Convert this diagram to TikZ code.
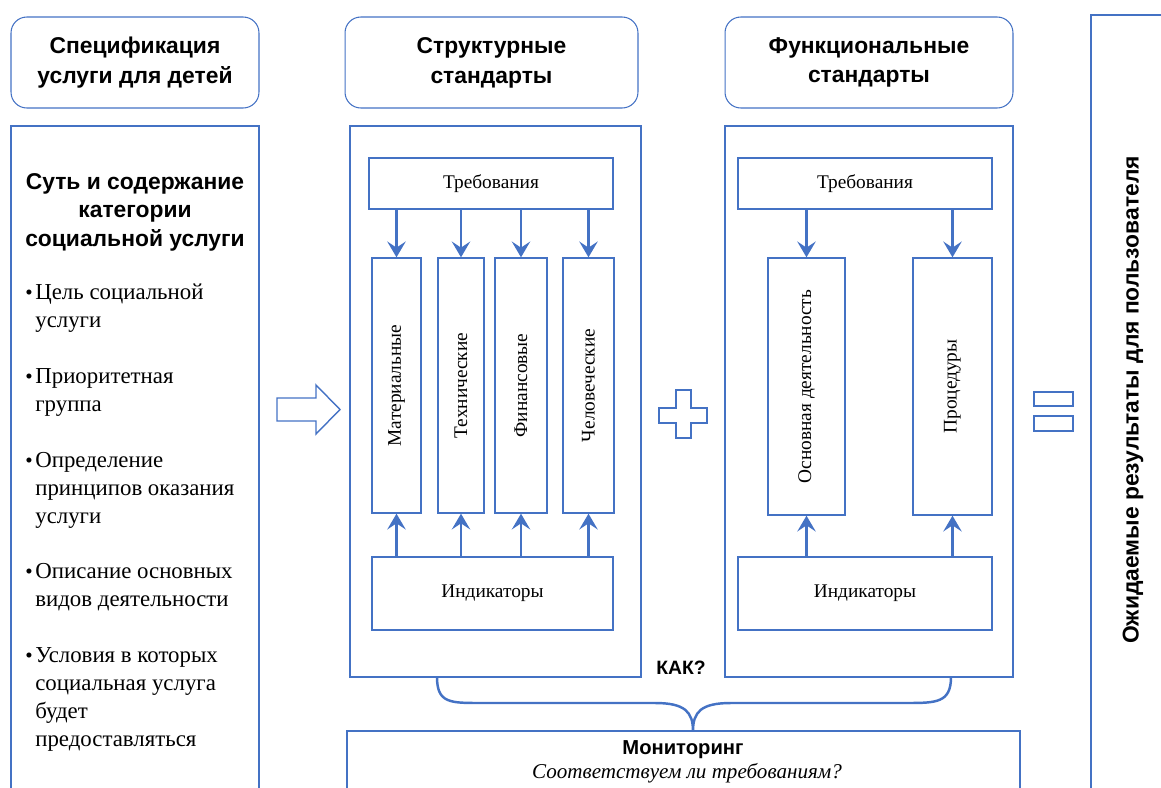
\documentclass[tikz,border=0pt]{standalone}
\usepackage{fontspec}
\usepackage{graphicx}
\setmainfont{Liberation Serif}
\setsansfont{Liberation Sans}
\usetikzlibrary{arrows.meta,positioning}
\definecolor{boxblue}{HTML}{4472C4}
\tikzstyle{header} = [rectangle,
                      rounded corners=9pt,
                      minimum height=1.82cm,
                      align=center,
                      draw=boxblue,
                      line width=0.6pt,
                      font=\sffamily\bfseries\fontsize{13}{17}\selectfont]
\tikzstyle{outline} = [draw=boxblue,
                       line width=0.8pt]
\tikzstyle{frame} = [rectangle,
                     minimum height=11.02cm,
                     draw=boxblue,
                     line width=0.8pt]
\tikzstyle{reqbox} = [rectangle,
                      minimum height=1.02cm,
                      draw=boxblue,
                      line width=0.8pt,
                      font=\fontsize{11}{13}\selectfont]
\tikzstyle{indbox} = [rectangle,
                      minimum height=1.46cm,
                      draw=boxblue,
                      line width=0.8pt,
                      font=\fontsize{11}{13}\selectfont]
\tikzstyle{column} = [rectangle,
                      inner sep=0pt,
                      minimum height=5.1cm,
                      draw=boxblue,
                      line width=0.8pt,
                      font=\fontsize{11}{13}\selectfont]
\tikzstyle{title} = [align=center,
                     font=\sffamily\bfseries\fontsize{13}{16.2}\selectfont]
\tikzstyle{item} = [align=left,
                    inner sep=0pt,
                    anchor=north west,
                    font=\fontsize{13}{15.9}\selectfont]
\tikzstyle{dot} = [inner sep=0pt,
                   anchor=base east,
                   font=\fontsize{12}{15.9}\selectfont]
\tikzstyle{arrow} = [draw=boxblue,
                     line width=1.3pt,
                     -{Stealth[length=9pt,width=10.5pt,inset=3.5pt]}]
\tikzstyle{brace} = [draw=boxblue,
                     line width=1.4pt]

\begin{document}
\begin{tikzpicture}[x=0.02cm, y=-0.02cm]
    \useasboundingbox (0,0) rectangle (1161,788);

    % headers
    \node (spec)   [header, minimum width=4.96cm] at (135,62.5)   {Спецификация\\услуги для детей};
    \node (struct) [header, minimum width=5.86cm] at (491.5,62.5) {Структурные\\стандарты};
    \node (func)   [header, minimum width=5.76cm] at (869,62.5)   {Функциональные\\стандарты};

    % left column
    \draw [outline] (11,788) -- (11,126) -- (259,126) -- (259,788);
    \node (essence) [title] at (135,212) {Суть и содержание\\категории\\социальной услуги};
    \node (it1) [item] at (35,279.4) {\strut Цель социальной\\услуги};
    \node (it2) [item] at (35,363.4) {\strut Приоритетная\\группа};
    \node (it3) [item] at (35,447.4) {\strut Определение\\принципов оказания\\услуги};
    \node (it4) [item] at (35,558.4) {\strut Описание основных\\видов деятельности};
    \node (it5) [item] at (35,642.4) {\strut Условия в которых\\социальная услуга\\будет\\предоставляться};
    \node (d1) [dot] at (33,299) {\textbullet};
    \node (d2) [dot] at (33,383) {\textbullet};
    \node (d3) [dot] at (33,467) {\textbullet};
    \node (d4) [dot] at (33,578) {\textbullet};
    \node (d5) [dot] at (33,662) {\textbullet};

    % hollow arrow
    \draw [outline] (277,398) -- (316,398) -- (316,385) -- (340,409.5) -- (316,434) -- (316,421) -- (277,421) -- cycle;

    % structural standards
    \node (sframe) [frame, minimum width=5.82cm] at (495.5,401.5) {};
    \node (sreq) [reqbox, minimum width=4.88cm] at (491,183.5) {Требования};
    \node (mat)  [column, minimum width=0.98cm] at (396.5,385.5) {\rotatebox{90}{Материальные}};
    \node (tech) [column, minimum width=0.92cm] at (461,385.5)   {\rotatebox{90}{Технические}};
    \node (fin)  [column, minimum width=1.04cm] at (521,385.5)   {\rotatebox{90}{Финансовые}};
    \node (hum)  [column, minimum width=1.02cm] at (588.5,385.5) {\rotatebox{90}{Человеческие}};
    \node (sind) [indbox, minimum width=4.82cm] at (492.5,593.5) {Индикаторы};

    \draw [arrow] (sreq.south -| mat)  -- (mat.north);
    \draw [arrow] (sreq.south -| tech) -- (tech.north);
    \draw [arrow] (sreq.south -| fin)  -- (fin.north);
    \draw [arrow] (sreq.south -| hum)  -- (hum.north);
    \draw [arrow] (sind.north -| mat)  -- (mat.south);
    \draw [arrow] (sind.north -| tech) -- (tech.south);
    \draw [arrow] (sind.north -| fin)  -- (fin.south);
    \draw [arrow] (sind.north -| hum)  -- (hum.south);

    % plus
    \draw [outline] (676,390) -- (691,390) -- (691,408) -- (707,408) -- (707,423) -- (691,423) -- (691,438)
                    -- (676,438) -- (676,423) -- (659,423) -- (659,408) -- (676,408) -- cycle;

    % functional standards
    \node (fframe) [frame, minimum width=5.76cm] at (869,401.5) {};
    \node (freq) [reqbox, minimum width=5.08cm] at (865,183.5) {Требования};
    \node (main) [column, minimum width=1.54cm, minimum height=5.14cm] at (806.5,386.5) {\rotatebox{90}{Основная деятельность}};
    \node (proc) [column, minimum width=1.58cm, minimum height=5.14cm] at (952.5,386.5) {\rotatebox{90}{Процедуры}};
    \node (find) [indbox, minimum width=5.08cm] at (865,593.5) {Индикаторы};

    \draw [arrow] (freq.south -| main) -- (main.north);
    \draw [arrow] (freq.south -| proc) -- (proc.north);
    \draw [arrow] (find.north -| main) -- (main.south);
    \draw [arrow] (find.north -| proc) -- (proc.south);

    % equals
    \draw [outline] (1034,392) rectangle (1073,406);
    \draw [outline] (1034,416) rectangle (1073,431);

    % expected results
    \draw [outline] (1161,15) -- (1091,15) -- (1091,788);
    \node (result) [title, rotate=90] at (1133,400) {Ожидаемые результаты для пользователя};

    % how? brace and monitoring
    \node (how) [font=\sffamily\bfseries\fontsize{11}{13}\selectfont] at (681,668) {КАК?};
    \coordinate (braceL) at (437,677);
    \coordinate (braceR) at (951,677);
    \coordinate (braceTip) at (693,731);
    \draw [brace] (braceL) .. controls (437,703) and (450,703) .. (480,703) -- (655,703)
                  .. controls (685,703) and (693,712) .. (braceTip)
                  .. controls (693,712) and (701,703) .. (731,703) -- (906,703)
                  .. controls (936,703) and (951,703) .. (braceR);

    \draw [outline] (347,788) -- (347,731) -- (1020,731) -- (1020,788);
    \node (mon)  [font=\sffamily\bfseries\fontsize{11.5}{13}\selectfont] at (683,750) {Мониторинг};
    \node (monq) [font=\itshape\fontsize{12}{14}\selectfont] at (687,773) {Соответствуем ли требованиям?};

\end{tikzpicture}
\end{document}
